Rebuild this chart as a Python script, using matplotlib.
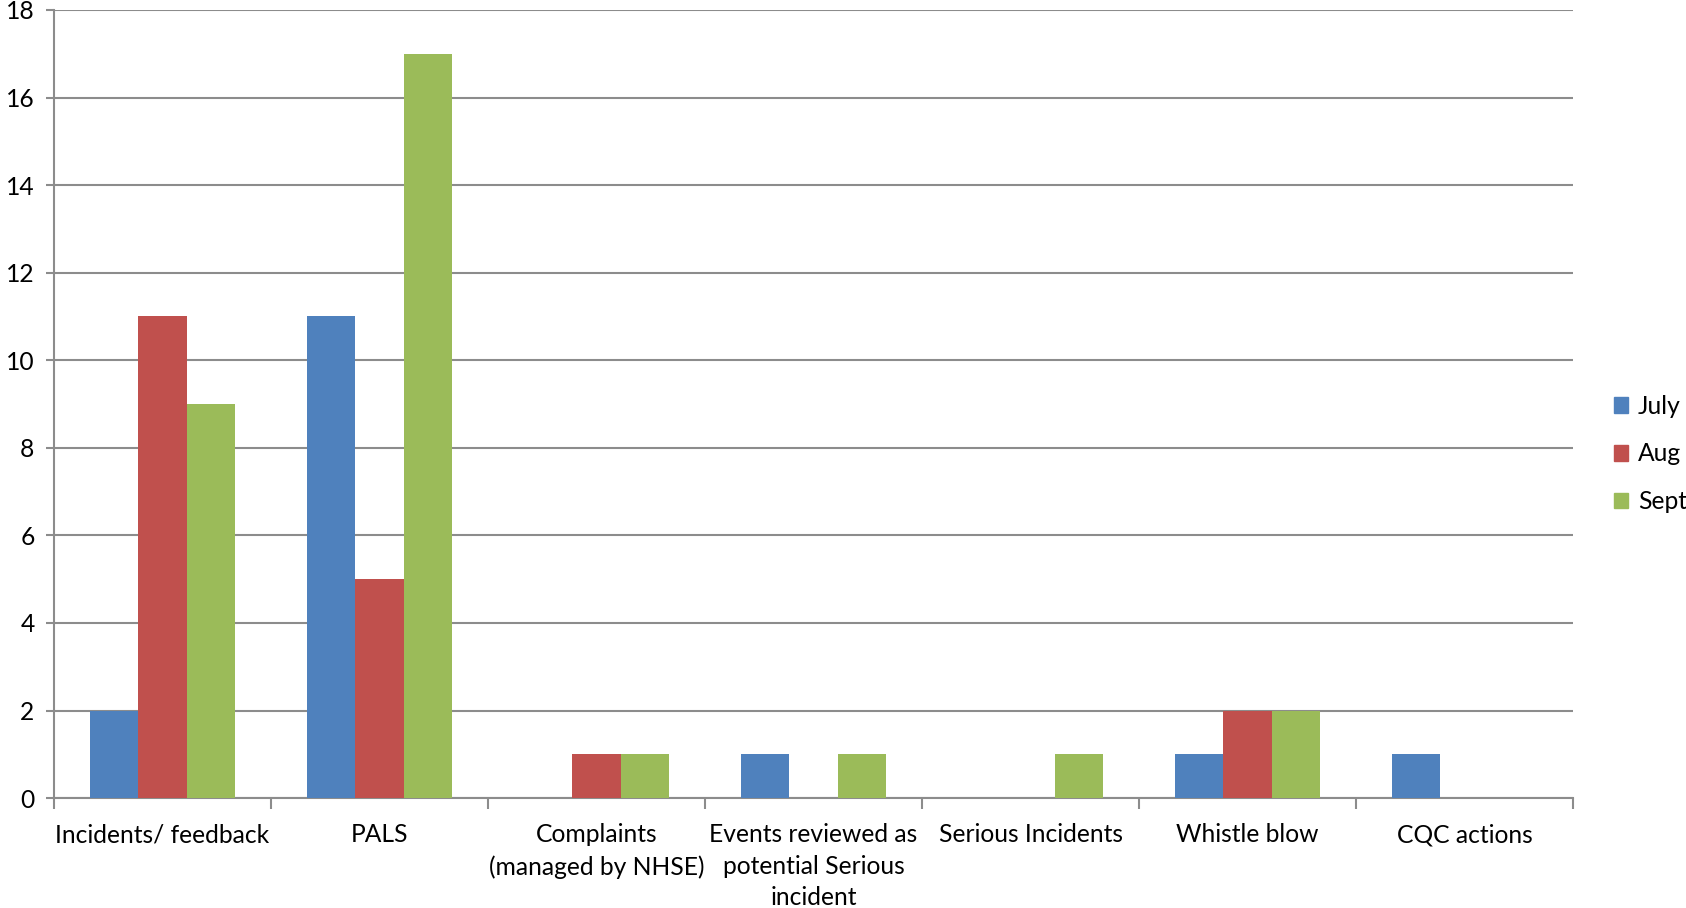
import numpy as np
import matplotlib.pyplot as plt
from matplotlib.patches import Patch

categories = ['Incidents/ feedback', 'PALS', 'Complaints\n(managed by NHSE)',
              'Events reviewed as\npotential Serious\nincident', 'Serious Incidents',
              'Whistle blow', 'CQC actions']
july = [2, 11, 0, 1, 0, 1, 1]
aug = [11, 5, 1, 0, 0, 2, 0]
sept = [9, 17, 1, 1, 1, 2, 0]
series = ['July', 'Aug', 'Sept']
colors = ['#4F81BD', '#C0504D', '#9BBB59']

plt.rcParams['font.family'] = ['Lato', 'DejaVu Sans']
fig = plt.figure(figsize=(16.86, 9.08), dpi=100)
ax = fig.add_axes([0.032, 0.121, 0.901, 0.868])

x = np.arange(len(categories))
w = 0.222
for i, (vals, c) in enumerate(zip([july, aug, sept], colors)):
    ax.bar(x + (i - 1) * w, vals, w, color=c, zorder=3)

fs = 17.7
ax.set_xlim(-0.5, len(categories) - 0.5)
ax.set_ylim(0, 18)
ax.set_yticks(range(0, 19, 2))
ax.yaxis.grid(True, color='#8c8c8c', lw=1.5, zorder=0)
ax.set_xticks(x)
ax.set_xticklabels(categories, fontsize=fs, linespacing=1.45)
ax.set_xticks(np.arange(-0.5, len(categories)), minor=True)
ax.tick_params(axis='x', which='major', length=0, pad=18)
ax.tick_params(axis='x', which='minor', length=8, width=1.5, color='#8c8c8c')
ax.tick_params(axis='y', length=6, width=1.5, color='#8c8c8c', labelsize=fs, pad=8)
for s in ['top', 'right']:
    ax.spines[s].set_visible(False)
for s in ['left', 'bottom']:
    ax.spines[s].set_color('#8c8c8c')
    ax.spines[s].set_linewidth(1.5)

handles = [Patch(color=c, label=s) for s, c in zip(series, colors)]
fig.legend(handles=handles, loc='center left', bbox_to_anchor=(0.957, 0.5),
           frameon=False, fontsize=fs, handlelength=0.6, handleheight=0.6,
           handletextpad=0.4, labelspacing=1.0, borderpad=0, borderaxespad=0)

fig.savefig('out.png')
